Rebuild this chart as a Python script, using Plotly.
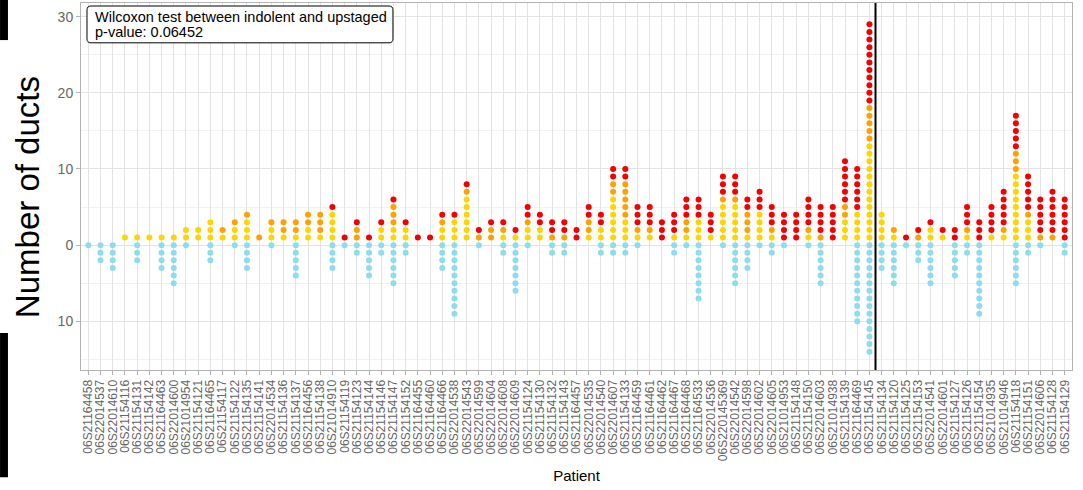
import plotly.graph_objects as go

patients = [
    "06S21164458", "06S22014537", "06S22014610", "06S21154116", "06S21154131", "06S21154142",
    "06S21164463", "06S22014600", "06S21014954", "06S21154121", "06S21164465", "06S21154117",
    "06S21154122", "06S21154135", "06S21154141", "06S22014534", "06S21154136", "06S21154137",
    "06S21164456", "06S21154138", "06S21014910", "06S21154119", "06S21154123", "06S21154144",
    "06S21154146", "06S21154147", "06S21154152", "06S21164455", "06S21164460", "06S21164466",
    "06S22014538", "06S22014543", "06S22014599", "06S22014604", "06S22014608", "06S22014609",
    "06S21154124", "06S21154130", "06S21154132", "06S21154143", "06S21164457", "06S22014535",
    "06S22014540", "06S22014607", "06S21154133", "06S21164459", "06S21164461", "06S21164462",
    "06S21164467", "06S21164468", "06S21164533", "06S22014536", "06S220145369", "06S22014542",
    "06S22014598", "06S22014602", "06S22014605", "06S21014953", "06S21154148", "06S21154150",
    "06S22014603", "06S21014938", "06S21154139", "06S21164469", "06S21154145", "06S21154134",
    "06S21154120", "06S21154125", "06S21154153", "06S22014541", "06S22014601", "06S21154127",
    "06S21154126", "06S21154154", "06S21014935", "06S21014946", "06S21154118", "06S21154151",
    "06S22014606", "06S21154128", "06S21154129",
]

yellow = [0, 0, 0, 1, 1, 1, 1, 1, 2, 2, 3, 1, 2, 3, 0, 2, 1, 1, 2, 1, 4,
          0, 0, 0, 2, 2, 2, 0, 0, 2, 3, 6, 0, 0, 1, 1, 2, 2, 0, 0, 0, 1,
          2, 6, 3, 1, 1, 0, 1, 1, 3, 1, 5, 5, 1, 4, 1, 0, 0, 1, 0, 0,
          3, 4, 13, 4, 1, 0, 0, 2, 1, 0, 1, 0, 1, 1, 9, 3, 0, 0, 0]
orange = [0, 0, 0, 0, 0, 0, 0, 0, 0, 0, 0, 1, 1, 1, 1, 1, 2, 2, 2, 3, 0,
          0, 2, 0, 0, 3, 0, 0, 0, 1, 0, 1, 1, 2, 1, 0, 1, 0, 1, 1, 0, 2,
          0, 2, 5, 1, 1, 0, 0, 2, 0, 0, 1, 1, 3, 0, 1, 0, 0, 1, 1, 0,
          2, 0, 5, 0, 1, 0, 1, 0, 0, 0, 1, 0, 0, 1, 3, 1, 1, 1, 0]
red = [0, 0, 0, 0, 0, 0, 0, 0, 0, 0, 0, 0, 0, 0, 0, 0, 0, 0, 0, 0, 1,
       1, 1, 1, 1, 1, 1, 1, 1, 1, 1, 1, 1, 1, 1, 1, 2, 2, 2, 2, 2, 2,
       2, 2, 2, 3, 3, 3, 3, 3, 3, 3, 3, 3, 2, 3, 3, 4, 4, 4, 4, 5,
       6, 6, 11, 0, 0, 1, 1, 1, 1, 2, 3, 3, 4, 5, 5, 5, 5, 6, 6]
cyan = [1, 3, 4, 0, 3, 0, 4, 6, 1, 0, 3, 0, 1, 4, 0, 1, 0, 5, 0, 0, 4,
        1, 2, 5, 2, 6, 2, 0, 0, 4, 10, 0, 1, 0, 2, 7, 1, 0, 2, 2, 0, 0,
        2, 2, 2, 1, 0, 0, 2, 1, 8, 0, 1, 6, 4, 1, 2, 1, 0, 1, 6, 0,
        0, 11, 15, 4, 6, 1, 3, 6, 0, 5, 2, 10, 0, 0, 6, 2, 1, 0, 2]

y_ticks = [-10, 0, 10, 20, 30]
y_tick_text = ["10", "0", "10", "20", "30"]
divider_after = "06S21154145"
note_lines = ["Wilcoxon test between indolent and upstaged", "p-value: 0.06452"]
y_title = "Number of ducts"
x_title = "Patient"

colors = {"yellow": "#FFD500", "orange": "#FFA200", "red": "#F50000", "cyan": "#8EDCEE"}

fig = go.Figure()

# positive stacks: yellow bottom, orange middle, red top, starting at 1
pos_series = [("yellow", yellow), ("orange", orange), ("red", red)]
for name, vals in pos_series:
    xs, ys = [], []
    for i, p in enumerate(patients):
        offset = 0
        for n2, v2 in pos_series:
            if n2 == name:
                break
            offset += v2[i]
        for k in range(vals[i]):
            xs.append(p)
            ys.append(offset + k + 1)
    fig.add_trace(go.Scatter(x=xs, y=ys, mode="markers", name=name,
                             marker=dict(color=colors[name], size=6, line=dict(width=0)),
                             showlegend=False, hoverinfo="skip"))

# negative stack: cyan from 0 downwards
xs, ys = [], []
for i, p in enumerate(patients):
    for k in range(cyan[i]):
        xs.append(p)
        ys.append(-k)
fig.add_trace(go.Scatter(x=xs, y=ys, mode="markers", name="cyan",
                         marker=dict(color=colors["cyan"], size=6, line=dict(width=0)),
                         showlegend=False, hoverinfo="skip"))

div_idx = patients.index(divider_after) + 0.5
fig.add_shape(type="line", xref="x", yref="paper", x0=div_idx, x1=div_idx, y0=0, y1=1,
              line=dict(color="black", width=2))

# cropping artifacts at left edge of the reference
fig.add_shape(type="rect", xref="paper", yref="paper", x0=-0.0817, x1=-0.0737, y0=0.899, y1=1.01,
              fillcolor="black", line=dict(width=0), layer="above")
fig.add_shape(type="rect", xref="paper", yref="paper", x0=-0.0817, x1=-0.0737, y0=-0.292, y1=0.101,
              fillcolor="black", line=dict(width=0), layer="above")

# rounded label box
bx0, bx1, by0, by1 = 0.00605, 0.3148, 0.8915, 0.9918
rx, ry = 0.004, 0.011
path = (f"M {bx0+rx},{by1} L {bx1-rx},{by1} Q {bx1},{by1} {bx1},{by1-ry} "
        f"L {bx1},{by0+ry} Q {bx1},{by0} {bx1-rx},{by0} "
        f"L {bx0+rx},{by0} Q {bx0},{by0} {bx0},{by0+ry} "
        f"L {bx0},{by1-ry} Q {bx0},{by1} {bx0+rx},{by1} Z")
fig.add_shape(type="path", path=path, xref="paper", yref="paper",
              fillcolor="white", line=dict(color="black", width=1), layer="above")
for line_text, yy in zip(note_lines, [0.961, 0.920]):
    fig.add_annotation(text=line_text, xref="paper", yref="paper", x=0.0121, y=yy,
                       xanchor="left", yanchor="middle", showarrow=False,
                       font=dict(family="Liberation Sans, Arial", size=14.5, color="black"))

# y-axis title as annotation (slightly below centre as in the reference)
fig.add_annotation(text=y_title, xref="paper", yref="paper", x=-0.0545, y=0.471,
                   xanchor="center", yanchor="middle", textangle=-90, showarrow=False,
                   font=dict(family="Liberation Sans, Arial", size=33, color="black"))

fig.update_layout(
    width=1083, height=490,
    margin=dict(l=81, r=11, t=3, b=120),
    paper_bgcolor="white", plot_bgcolor="white",
    font=dict(family="Liberation Sans, Arial", color="#555555"),
)
fig.update_xaxes(
    type="category", categoryorder="array", categoryarray=patients,
    tickmode="array", tickvals=patients, ticktext=patients,
    range=[-0.6, len(patients) - 0.4],
    tickangle=-90, tickfont=dict(size=12, color="#666666"),
    showgrid=True, gridcolor="#E3E3E3", gridwidth=1,
    showline=True, mirror=True, linecolor="#B3B3B3", linewidth=1,
    ticks="outside", ticklen=4, tickcolor="#B3B3B3",
    title=dict(text=x_title, font=dict(size=15, color="black"), standoff=10),
    zeroline=False, automargin=False,
)
fig.update_yaxes(
    range=[-16.4, 31.8],
    tickvals=y_ticks, ticktext=y_tick_text,
    tickfont=dict(size=14, color="#666666"),
    showgrid=True, gridcolor="#E3E3E3", gridwidth=1,
    minor=dict(tickvals=[-15, -5, 5, 15, 25], showgrid=True, gridcolor="#F1F1F1", gridwidth=1),
    showline=True, mirror=True, linecolor="#B3B3B3", linewidth=1,
    ticks="outside", ticklen=4, tickcolor="#B3B3B3",
    zeroline=False, automargin=False,
)

fig.write_html("out.html", config={"displayModeBar": False},
               post_script="document.body.style.margin='0';document.body.style.padding='0';")
